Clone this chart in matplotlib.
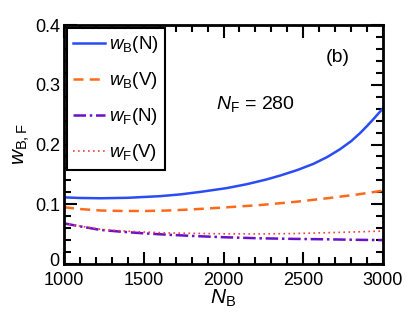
import numpy as np
import matplotlib
matplotlib.use("Agg")
import matplotlib.pyplot as plt
from matplotlib.ticker import MultipleLocator
from matplotlib.transforms import ScaledTranslation

plt.rcParams['font.family'] = ['Liberation Sans', 'DejaVu Sans']
plt.rcParams['mathtext.fontset'] = 'custom'
plt.rcParams['mathtext.rm'] = 'Liberation Sans'
plt.rcParams['mathtext.it'] = 'Liberation Sans:italic'
plt.rcParams['mathtext.bf'] = 'Liberation Sans:bold'

NB_b = [1000, 1100, 1230, 1400, 1600, 1730, 1850, 2020, 2145, 2270, 2355, 2460, 2563, 2650, 2730, 2800, 2856, 2900, 2940, 2970, 3000]
wB_N = [0.1115, 0.1105, 0.110, 0.1108, 0.1135, 0.1165, 0.1205, 0.127, 0.1335, 0.1415, 0.148, 0.157, 0.1675, 0.179, 0.192, 0.2055, 0.219, 0.231, 0.2425, 0.2515, 0.2606]

NB = [1000, 1100, 1230, 1360, 1500, 1650, 1810, 2000, 2230, 2450, 2650, 2830, 3000]
wB_V = [0.095, 0.092, 0.0895, 0.0888, 0.0887, 0.0895, 0.0915, 0.0945, 0.0987, 0.104, 0.110, 0.116, 0.1227]
wF_N = [0.068, 0.063, 0.057, 0.054, 0.0513, 0.049, 0.0469, 0.0448, 0.043, 0.042, 0.0413, 0.0405, 0.040]
wF_V = [0.068, 0.0635, 0.058, 0.0555, 0.0535, 0.052, 0.0513, 0.0505, 0.0503, 0.051, 0.0524, 0.0537, 0.0552]

fig = plt.figure(figsize=(4.07, 3.25), dpi=100)
ax = fig.add_axes([64/407, 1-264/325, (383-64)/407, (264-25)/325])

ax.plot(NB_b, wB_N, color='#2a4cf5', lw=1.8, label=r'$w_{\rm B}$(N)')
ax.plot(NB, wB_V, color='#ff6a1a', lw=1.8, ls=(0, (4, 2.5)), label=r'$w_{\rm B}$(V)')
ax.plot(NB, wF_N, color='#6a10c8', lw=1.8, ls=(0, (5, 1.5, 1, 1.5)), label=r'$w_{\rm F}$(N)')
ax.plot(NB, wF_V, color='#f04040', lw=1.2, ls=(0, (1, 2)), label=r'$w_{\rm F}$(V)')

ax.set_xlim(1000, 3000)
ax.set_ylim(0, 0.4)
ax.xaxis.set_major_locator(MultipleLocator(500))
ax.xaxis.set_minor_locator(MultipleLocator(100))
ax.yaxis.set_minor_locator(MultipleLocator(0.02))
ax.set_yticks([0, 0.1, 0.2, 0.3, 0.4])
ax.set_yticklabels(['0', '0.1', '0.2', '0.3', '0.4'])
ax.tick_params(which='both', direction='in', top=True, right=True, labelsize=13, width=1.5)
ax.tick_params(which='major', length=9)
ax.tick_params(axis='x', which='major', pad=6)
ax.tick_params(axis='y', which='major', pad=3)
ax.tick_params(which='minor', length=5)
for s in ax.spines.values():
    s.set_linewidth(2)

# nudge the "0" y label slightly up so it does not collide with "1000"
lbl0 = ax.get_yticklabels()[0]
lbl0.set_transform(lbl0.get_transform() + ScaledTranslation(0, 3/72, fig.dpi_scale_trans))

ax.set_xlabel(r'$N_{\rm B}$', fontsize=15, labelpad=-1)
ax.set_ylabel(r'$w_{\rm B,F}$', fontsize=15, labelpad=2)

ax.text(0.859, 0.862, '(b)', transform=ax.transAxes, fontsize=14, ha='center', va='center')
ax.text(0.475, 0.67, r'$N_{\rm F}$ = 280', transform=ax.transAxes, fontsize=14, ha='left', va='center')

leg = ax.legend(loc='upper left', fontsize=13.5, handlelength=1.7, handletextpad=0.2,
                borderaxespad=0.15, labelspacing=0.8, fancybox=False, edgecolor='black',
                framealpha=1, borderpad=0.35)
leg.get_frame().set_linewidth(1.5)

fig.savefig('out.png', dpi=100)
